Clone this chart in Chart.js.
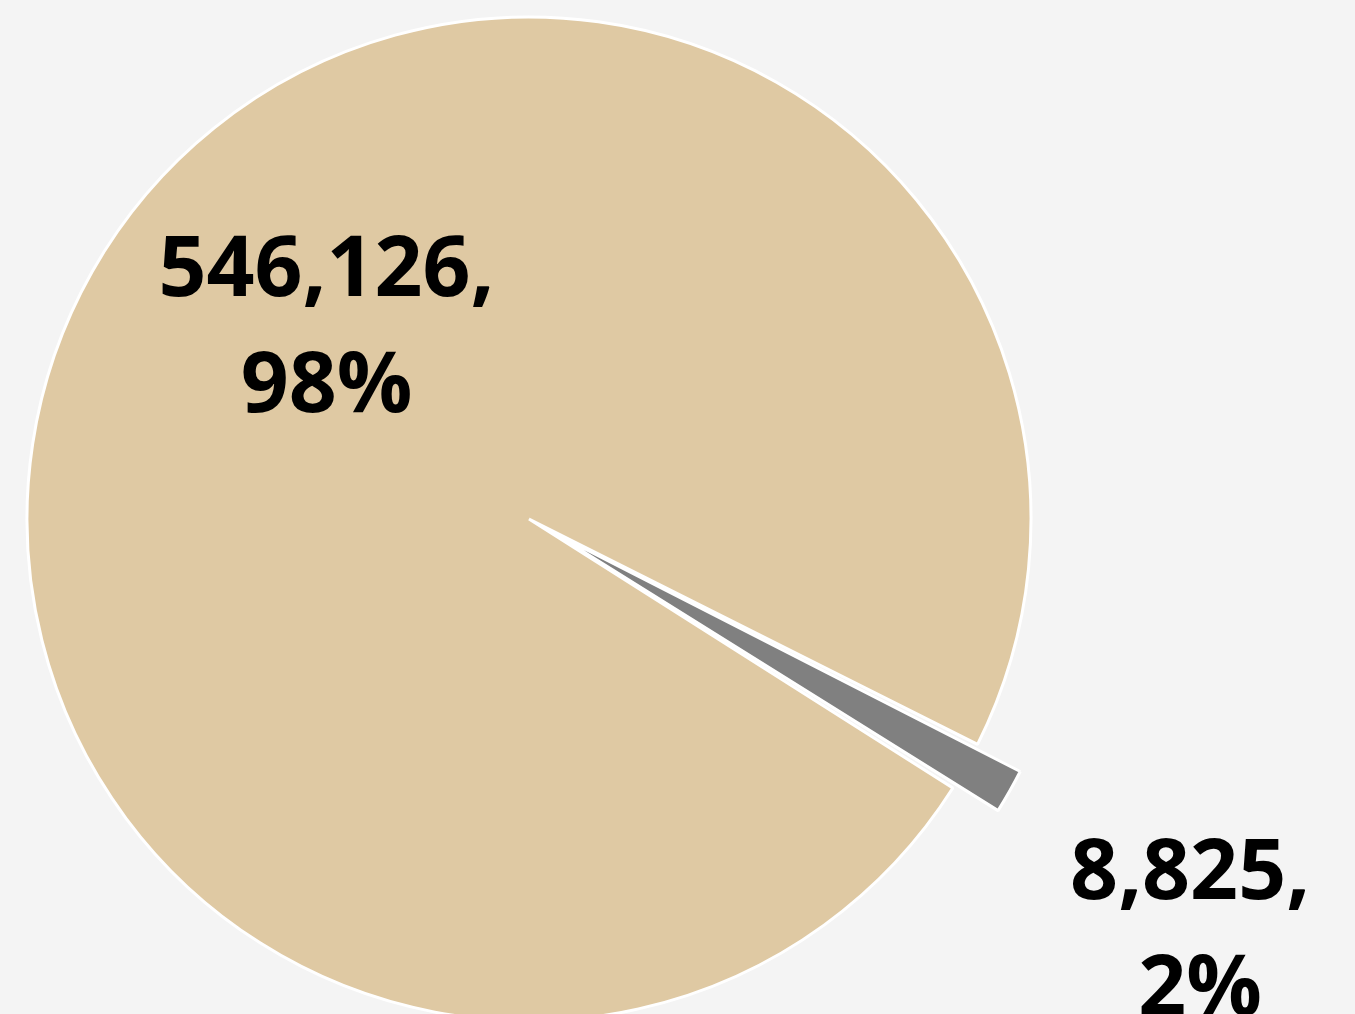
<!DOCTYPE html>
<html>
<head>
<meta charset="utf-8">
<script src="https://cdn.jsdelivr.net/npm/chart.js@4/dist/chart.umd.min.js"></script>
<style>
  html, body { margin: 0; padding: 0; overflow: hidden; background: #f4f4f4; }
  #wrap { position: relative; width: 1355px; height: 1014px; }
</style>
</head>
<body>
<div id="wrap"><canvas id="pieChart"></canvas></div>
<script>
// chart data
const categories = ['Group A', 'Group B'];
const values = [546126, 8825];
const sliceColors = ['#dfc9a3', '#808080'];

// where each data label sits: angle shift from slice middle (deg), distance as share of radius,
// and a small nudge for the second line
const labelPlace = [
  { shift: 9.6, ratio: 0.52, nudge: 0 },
  { shift: 4, ratio: 1.58, nudge: 10 }
];

const pieLabels = {
  id: 'pieLabels',
  afterDatasetsDraw(chart) {
    const ctx = chart.ctx;
    const meta = chart.getDatasetMeta(0);
    const total = values.reduce((a, b) => a + b, 0);
    ctx.save();
    ctx.font = 'bold 84px "Open Sans"';
    ctx.fillStyle = '#000';
    ctx.textAlign = 'center';
    ctx.textBaseline = 'alphabetic';
    meta.data.forEach((arc, i) => {
      const p = arc.getProps(['x', 'y', 'startAngle', 'endAngle', 'outerRadius'], true);
      const a = (p.startAngle + p.endAngle) / 2 + labelPlace[i].shift * Math.PI / 180;
      const r = p.outerRadius * labelPlace[i].ratio;
      const x = p.x + Math.cos(a) * r;
      const y = p.y + Math.sin(a) * r;
      const line1 = values[i].toLocaleString('en-US') + ',';
      const line2 = Math.round(values[i] / total * 100) + '%';
      ctx.fillText(line1, x, y - 58);
      ctx.fillText(line2, x + labelPlace[i].nudge, y + 58);
    });
    ctx.restore();
  }
};

const ctx = document.getElementById('pieChart').getContext('2d');
new Chart(ctx, {
  type: 'pie',
  data: {
    labels: categories,
    datasets: [{
      data: values,
      backgroundColor: sliceColors,
      borderColor: '#ffffff',
      borderWidth: 3,
      offset: [0, 106],
      clip: false
    }]
  },
  options: {
    responsive: true,
    maintainAspectRatio: false,
    animation: false,
    radius: 502,
    rotation: 122.4,
    layout: {
      padding: { top: 24, left: 0, right: 297, bottom: 0 }
    },
    plugins: {
      legend: { display: false },
      tooltip: { enabled: false }
    }
  },
  plugins: [pieLabels]
});
</script>
</body>
</html>
